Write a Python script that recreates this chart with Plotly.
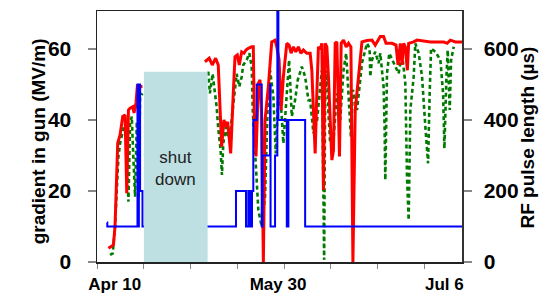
import plotly.graph_objects as go

# ---- data (x in days from start of window; None = gap during shutdown) ----
grad_red_x = [2.44, 3.51, 3.85, 4.22, 4.43, 4.93, 5.50, 6.00, 6.36, 6.72, 7.07, 7.64, 7.92, 8.35, 8.65, 8.87, 9.14, 9.72,
              None,
              23.06, 23.98, 24.63, 25.35, 25.91, 26.12, 26.64, 27.13, 27.56, 27.92, 28.57, 29.12, 29.49, 29.98, 30.41,
              30.92, 31.41, 31.84, 32.33, 33.06, 33.40, 33.62, 33.98, 34.48, 34.84, 35.16, 35.55, 35.91, 36.62, 37.34,
              38.05, 38.42, 38.91, 39.34, 39.83, 40.56, 41.05, 41.48, 41.97, 42.48, 43.04, 43.55, 44.11, 44.84, 45.55,
              45.91, 46.62, 46.98, 47.32, 47.69, 48.05, 48.39, 48.76, 49.12, 49.46, 50.19, 50.54, 50.90, 51.26, 51.82,
              52.18, 52.68, 53.25, 53.75, 54.26, 54.69, 55.18, 55.89, 56.62, 57.69, 58.76, 59.46, 60.54, 61.24, 61.76,
              63.04, 63.90, 64.33, 64.82, 65.18, 65.52, 65.89, 66.32, 66.60, 67.67, 68.39, 71.24, 74.09, 74.82, 75.52,
              76.59, 78.03]
grad_red_y = [3.9, 4.8, 10, 28, 33.5, 35.8, 41, 41.4, 19.4, 42.8, 43.3, 43.7, 42, 45, 50, 41, 49.4, 49.4,
              None,
              56.4, 57.4, 55.5, 57.4, 55.5, 47.5, 32.5, 40, 38.1, 39.5, 30.6, 47.5, 57.8, 58.3, 55.5,
              59.2, 58.8, 59.7, 60.2, 60.6, 60.6, 41, 29.7, 50.3, 51.3, 42, 0, 40, 49.4, 62,
              62.5, 60.6, 56.9, 42.8, 52.2, 61.6, 61.1, 58.8, 60.6, 59.2, 60.6, 58.8, 59.7, 58.8, 58.8,
              54, 30.6, 47.5, 60.6, 59.9, 61.6, 20.3, 61.6, 60.6, 52.2, 28.7, 31.5, 61.6, 62, 29.7,
              61.6, 62.5, 60.6, 61.6, 60.6, 0, 42.8, 52.2, 62, 62.4, 62.5, 61.1, 63.5, 63.5, 61.6,
              61.6, 61.1, 55.5, 61.6, 55.5, 61.6, 60.6, 54, 61.6, 62, 62.5, 62, 62, 61.6, 62.5,
              62, 62]

grad_green_x = [2.78, 3.36, 3.85, 4.22, 4.58, 4.93, 5.72, 6.15, 6.72, 7.07, 7.43, 7.79, 8.14, 8.50, 8.87, 9.21, 9.72,
                None,
                23.77, 24.13, 24.71, 25.20, 25.57, 25.91, 26.42, 26.70, 26.98, 27.56, 27.99, 28.42, 29.06, 29.49,
                29.85, 30.41, 30.92, 31.26, 31.99, 32.55, 33.06, 33.28, 33.77, 34.13, 34.48, 35.20, 35.91, 36.49,
                36.98, 37.69, 38.20, 38.76, 39.34, 39.83, 40.56, 41.05, 41.63, 42.33, 42.91, 43.77, 44.48, 45.18,
                45.55, 46.25, 47.04, 47.69, 48.05, 48.39, 48.54, 48.76, 49.12, 49.46, 49.83, 50.54, 51.26, 51.97,
                52.68, 53.25, 53.75, 54.26, 54.69, 55.55, 56.10, 56.62, 57.69, 58.25, 58.40, 58.76, 59.46, 60.17,
                60.54, 60.90, 61.24, 61.46, 61.61, 61.97, 62.46, 64.45, 65.18, 65.89, 66.04, 66.25, 66.60, 66.96,
                67.67, 68.03, 68.74, 69.46, 70.17, 70.75, 71.09, 71.39, 72.31, 73.38, 73.96, 74.24, 74.67, 74.95,
                75.38, 75.67, 76.23]
grad_green_y = [2, 2.4, 10, 22, 29.7, 33.4, 38, 37, 17, 39, 41, 28.7, 18.4, 39.5, 18.4, 46.6, 47.5,
                None,
                53.6, 47.5, 53, 48.5, 43.7, 37.6, 31.5, 24.5, 33.4, 38, 35, 36, 44, 48.5,
                53, 49.4, 52.2, 55.5, 56.9, 58.8, 55, 42.8, 29.7, 21.2, 14.6, 10, 18.4, 44.7,
                54, 46.6, 30.6, 47.5, 43.7, 33.4, 49.4, 56.9, 41, 45.6, 51.3, 55, 52.2, 45.6,
                45.6, 36.2, 40, 48.5, 54, 18.4, 0.6, 47.5, 54, 41.9, 33.4, 34.4, 47.5, 40,
                54, 58.8, 47.5, 35.3, 48.5, 42.8, 49.4, 56, 61.6, 60.2, 52.2, 56.9, 59.2, 56,
                58.8, 54, 49.4, 38.1, 23.1, 53.1, 58.8, 53.1, 58.8, 50.3, 38.1, 24, 11.8, 42.8,
                52.2, 61.6, 58.8, 52.2, 38.1, 27.8, 47.5, 60.2, 59.2, 56.9, 47.5, 32, 52.2, 59.7,
                42.8, 56.9, 60.6]

pulse_x = [2.14, 2.2, 8.65, 8.9, 8.95, 9.21, 9.72, 29.70, 31.84, 32.33, 32.70, 33.13, 33.40, 34.13, 35.20, 35.37,
           36.98, 37.09, 38.05, 38.54, 38.76, 40.56, 40.90, 44.48, 78.03]
pulse_y = [111, 100, 500, 100, 500, 200, 100, 200, 100, 200, 100, 200, 400, 500, 100, 300,
           500, 100, 300, 800, 400, 100, 400, 100, 100]

shutdown_start, shutdown_end, shutdown_top = 10.02, 23.64, 53.6
shutdown_label = "shut<br>down"

x_minor_ticks = [0, 10, 20, 30, 40, 50, 60, 70]
x_label_pos = [3.79, 38.69, 74.24]
x_label_text = ["Apr 10", "May 30", "Jul 6"]
y_ticks = [0, 20, 40, 60]
y2_ticks = [0, 200, 400, 600]

FONT = "Liberation Sans, Arial, Helvetica, sans-serif"

fig = go.Figure()
fig.add_trace(go.Scatter(x=grad_green_x, y=grad_green_y, mode="lines", connectgaps=False,
                         line=dict(color="#007a00", width=2.6, dash="4px,3px"), hoverinfo="skip"))
fig.add_trace(go.Scatter(x=grad_red_x, y=grad_red_y, mode="lines", connectgaps=False,
                         line=dict(color="#ff0000", width=3), hoverinfo="skip"))
fig.add_trace(go.Scatter(x=pulse_x, y=pulse_y, mode="lines", line_shape="hv", yaxis="y2",
                         line=dict(color="#0000ff", width=2), hoverinfo="skip"))

fig.add_shape(type="rect", xref="x", yref="y", x0=shutdown_start, x1=shutdown_end, y0=0, y1=shutdown_top,
              fillcolor="rgb(190,224,226)", line=dict(width=0), layer="above")
fig.add_annotation(x=(shutdown_start + shutdown_end) / 2, y=26.2, xref="x", yref="y", text=shutdown_label,
                   showarrow=False, font=dict(family=FONT, size=17, color="#222"))

fig.add_annotation(x=-0.195, y=0.482, xref="paper", yref="paper", text="gradient in gun (MV/m)",
                   textangle=-90, showarrow=False, font=dict(family=FONT, size=19, color="#000", weight="bold"))
fig.add_annotation(x=1.2137, y=0.494, xref="paper", yref="paper", text="RF pulse length (µs)",
                   textangle=-90, showarrow=False, font=dict(family=FONT, size=19, color="#000", weight="bold"))

fig.update_layout(
    width=556, height=294,
    margin=dict(l=97, r=94, t=11, b=32, autoexpand=False),
    paper_bgcolor="white", plot_bgcolor="white",
    showlegend=False,
    xaxis=dict(range=[0, 78], showgrid=False, zeroline=False, automargin=False,
               showline=True, linecolor="#222", linewidth=1.5, mirror=True,
               tickvals=x_label_pos, ticktext=x_label_text, ticks="", ticklabelstandoff=6,
               tickfont=dict(family=FONT, size=17, color="#000", weight="bold"),
               minor=dict(tickvals=x_minor_ticks, ticks="outside", ticklen=5, tickcolor="#888", tickwidth=1)),
    yaxis=dict(range=[0, 70.7], showgrid=False, zeroline=False, automargin=False,
               showline=True, linecolor="#222", linewidth=1.5,
               tickvals=y_ticks, ticks="outside", ticklen=8, tickcolor="#888", tickwidth=1.5,
               ticklabelstandoff=12,
               tickfont=dict(family=FONT, size=21, color="#000", weight="bold")),
    yaxis2=dict(range=[0, 707], overlaying="y", side="right", showgrid=False, zeroline=False, automargin=False,
                showline=True, linecolor="#333", linewidth=1.5,
                tickvals=y2_ticks, ticks="outside", ticklen=8, tickcolor="#888", tickwidth=1.5,
                ticklabelstandoff=8,
                tickfont=dict(family=FONT, size=21, color="#000", weight="bold")),
)

fig.write_html("out.html", config={"displayModeBar": False, "staticPlot": True},
               post_script="document.body.style.margin='0';document.body.style.overflow='hidden';")
